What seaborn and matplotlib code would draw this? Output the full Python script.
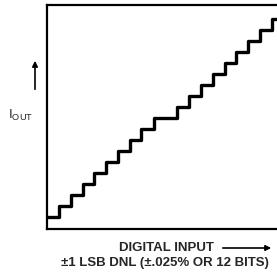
import matplotlib
matplotlib.use('Agg')
import matplotlib.pyplot as plt
import numpy as np
import pandas as pd
import seaborn as sns

# code start positions (LSB) and output levels
code_start = [0, 1, 2, 3, 4, 5, 6, 7, 7.9, 9, 11, 12, 13, 14, 15, 16, 17, 18, 19, 19.6]
i_out = [0, 1, 2, 3, 4, 5, 6, 7, 8, 9, 10, 11, 12, 13, 14, 15, 16, 17, 18, 18]

x_label = 'DIGITAL INPUT'
note = '\u00b11 LSB DNL (\u00b1.025% OR 12 BITS)'

sns.set_style('white')
plt.rcParams['font.family'] = ['Liberation Sans', 'DejaVu Sans']

df = pd.DataFrame({'code': code_start, 'iout': i_out})

fig = plt.figure(figsize=(2.77, 2.75), dpi=100)
ax = fig.add_axes([47 / 277, 1 - 229 / 275, 1 - 47 / 277, 224 / 275])
sns.lineplot(data=df, x='code', y='iout', drawstyle='steps-post',
             color='black', linewidth=2.4, ax=ax)
ax.set_xlim(0, 19.43)
ax.set_ylim(-1.09, 19.27)
ax.set_xticks([])
ax.set_yticks([])
ax.set_xlabel('')
ax.set_ylabel('')
for s in ['left', 'top', 'bottom']:
    ax.spines[s].set_color('black')
    ax.spines[s].set_linewidth(1.6)
ax.spines['right'].set_visible(False)

# y label with arrow
fig.text(8 / 277, 1 - 115 / 275, 'I$_{\\mathregular{OUT}}$', fontsize=9.5,
         ha='left', va='center')
fig.add_artist(matplotlib.patches.FancyArrowPatch(
    (35 / 277, 1 - 92 / 275), (35 / 277, 1 - 58 / 275),
    transform=fig.transFigure, arrowstyle='-|>', mutation_scale=8,
    color='black', linewidth=1.2))

# x label with arrow
fig.text(166 / 277, 1 - 248 / 275, x_label, fontsize=9.5, fontweight='bold',
         ha='center', va='center')
fig.add_artist(matplotlib.patches.FancyArrowPatch(
    (220 / 277, 1 - 248 / 275), (274 / 277, 1 - 248 / 275),
    transform=fig.transFigure, arrowstyle='-|>', mutation_scale=8,
    color='black', linewidth=1.2))
fig.text(165 / 277, 1 - 263 / 275, note, fontsize=9.5, fontweight='bold',
         ha='center', va='center')

fig.savefig('out.png', dpi=100)
